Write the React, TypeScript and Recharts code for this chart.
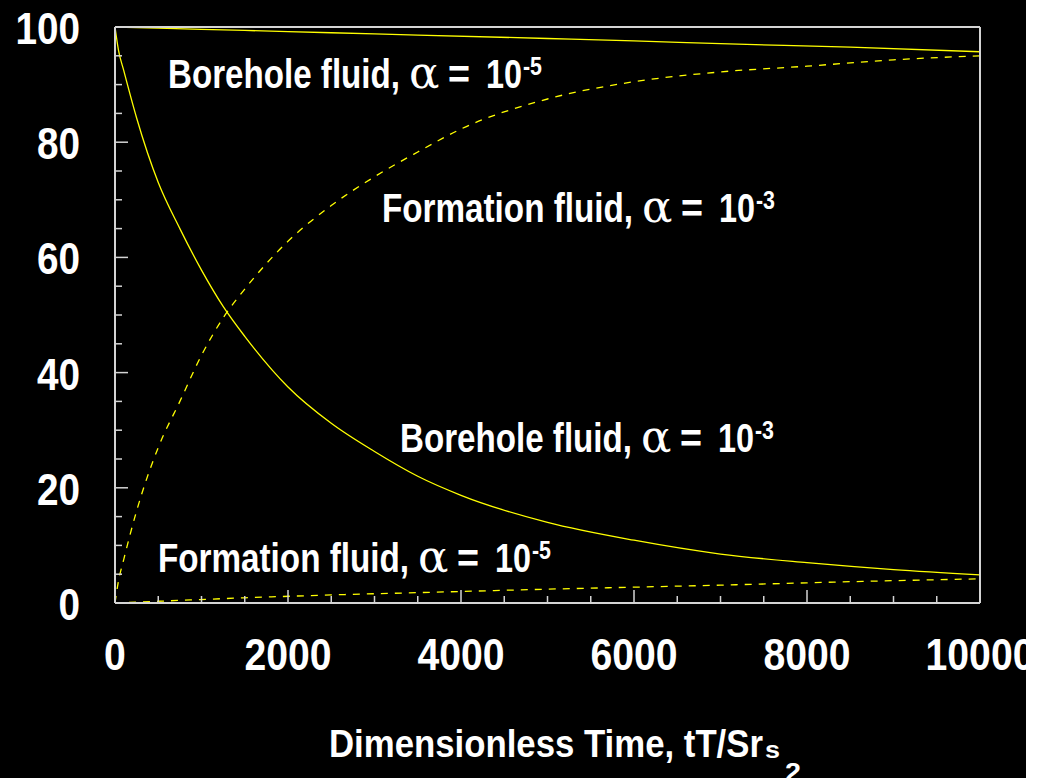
import { Customized, Line, LineChart, XAxis, YAxis } from "recharts";

// dimensionless time samples for the alpha = 1e-3 pair
const fastTimes = [0, 40, 100, 250, 500, 750, 1000, 1250, 1500, 2000, 2500, 3000, 3500, 4000, 5000, 6000, 7000, 8000, 9000, 10000];
const fastBorehole = [100, 96.0, 92.5, 84.2, 73.0, 65.0, 57.8, 51.5, 46.3, 37.5, 31.2, 26.3, 22.0, 18.7, 14.0, 10.9, 8.5, 7.0, 5.8, 4.9];
const fastFormation = [0, 3.8, 7.5, 16.0, 27.0, 35.0, 43.0, 49.5, 54.5, 62.8, 69.0, 74.0, 78.3, 82.3, 87.5, 90.5, 92.2, 93.2, 94.3, 95.0];

// alpha = 1e-5 pair changes slowly, fewer samples needed
const slowTimes = [0, 500, 1500, 2500, 3500, 5000, 6000, 7000, 8500, 10000];
const slowBorehole = [100, 99.8, 99.4, 99.0, 98.6, 98.0, 97.6, 97.1, 96.5, 95.7];
const slowFormation = [0, 0.3, 0.9, 1.4, 1.8, 2.4, 2.75, 3.1, 3.7, 4.2];

const xTicks = Array.from({ length: 21 }, (_, i) => i * 500);
const yTicks = Array.from({ length: 21 }, (_, i) => i * 5);

const FONT = "'Liberation Sans', Arial, sans-serif";
const FRAME = "#d4d4d4";
const CURVE = "#ffff00";

const toPoints = (times: number[], values: number[]) =>
  times.map((t, i) => ({ t, v: values[i] }));

// bold sans squeezed horizontally to get a condensed face
function Narrow({ x, y, size, sx, anchor = "start", children }: any) {
  return (
    <g transform={`translate(${x},${y}) scale(${sx},1)`}>
      <text x={0} y={0} textAnchor={anchor} fill="#fff" fontFamily={FONT} fontWeight="bold" fontSize={size}>
        {children}
      </text>
    </g>
  );
}

const tickFor = (side: "bottom" | "top" | "left" | "right") => (props: any) => {
  const { x, y, payload } = props;
  const v = payload.value;
  const horizontal = side === "bottom" || side === "top";
  const major = horizontal ? v % 2000 === 0 : v % 20 === 0;
  const len = major ? 13 : 7;
  let line;
  if (side === "bottom") line = <line x1={x} x2={x} y1={y} y2={y - len} stroke={FRAME} strokeWidth={1.5} />;
  else if (side === "top") line = <line x1={x} x2={x} y1={y} y2={y + len} stroke={FRAME} strokeWidth={1.5} />;
  else if (side === "left") line = <line x1={x} x2={x + len} y1={y} y2={y} stroke={FRAME} strokeWidth={1.5} />;
  else line = <line x1={x} x2={x - len} y1={y} y2={y} stroke={FRAME} strokeWidth={1.5} />;

  let label = null;
  if (major && side === "bottom") {
    label = <Narrow x={x} y={y + 67} size={45} sx={0.87} anchor="middle">{v}</Narrow>;
  } else if (major && side === "left") {
    label = <Narrow x={x - 35} y={y + 17} size={44} sx={0.88} anchor="end">{v}</Narrow>;
  }
  return (
    <g>
      {line}
      {label}
    </g>
  );
};

// "<name>, α = 10^-exp" with the pieces laid out from the end of the name
function Phrase({ x, y, text, width, exp }: { x: number; y: number; text: string; width: number; exp: string }) {
  const e = x + width;
  return (
    <g fill="#fff" fontFamily={FONT} fontWeight="bold">
      <text x={x} y={y} fontSize={40} textLength={width + 3} lengthAdjust="spacingAndGlyphs">
        {text}
      </text>
      <text x={e + 12} y={y} fontSize={45} fontFamily="'DejaVu Serif', serif" fontWeight="normal">
        α
      </text>
      <text x={e + 51} y={y} fontSize={40} textLength={22} lengthAdjust="spacingAndGlyphs">
        =
      </text>
      <text x={e + 89} y={y} fontSize={40} textLength={36} lengthAdjust="spacingAndGlyphs">
        10
      </text>
      <text x={e + 126} y={y - 13} fontSize={26} textLength={19} lengthAdjust="spacingAndGlyphs">
        -{exp}
      </text>
    </g>
  );
}

function Annotations() {
  return (
    <g>
      <Phrase x={168} y={88} text="Borehole fluid," width={229} exp="5" />
      <Phrase x={382} y={222} text="Formation fluid," width={248} exp="3" />
      <Phrase x={400} y={452} text="Borehole fluid," width={229} exp="3" />
      <Phrase x={158} y={572} text="Formation fluid," width={248} exp="5" />
      <g fill="#fff" fontFamily={FONT} fontWeight="bold">
        <text x={329} y={757} fontSize={38} textLength={434} lengthAdjust="spacingAndGlyphs">
          Dimensionless Time, tT/Sr
        </text>
        <text x={765} y={758} fontSize={23} textLength={15} lengthAdjust="spacingAndGlyphs">
          s
        </text>
        <text x={785} y={781} fontSize={26} textLength={16} lengthAdjust="spacingAndGlyphs">
          2
        </text>
      </g>
    </g>
  );
}

export default function App() {
  return (
    <div style={{ position: "absolute", left: 0, top: 0, width: 1026, height: 778, background: "#000", overflow: "hidden" }}>
      <LineChart width={1045} height={778} margin={{ top: 17, right: 55, left: 0, bottom: 0 }}>
        <XAxis
          xAxisId="bottom"
          dataKey="t"
          type="number"
          domain={[0, 10000]}
          ticks={xTicks}
          interval={0}
          height={175}
          tickSize={0}
          tickMargin={0}
          axisLine={{ stroke: FRAME, strokeWidth: 2 }}
          tick={tickFor("bottom")}
        />
        <XAxis
          xAxisId="top"
          orientation="top"
          dataKey="t"
          type="number"
          domain={[0, 10000]}
          ticks={xTicks}
          interval={0}
          height={10}
          tickSize={0}
          tickMargin={0}
          axisLine={{ stroke: FRAME, strokeWidth: 2 }}
          tick={tickFor("top")}
        />
        <YAxis
          yAxisId="left"
          type="number"
          domain={[0, 100]}
          ticks={yTicks}
          interval={0}
          width={115}
          tickSize={0}
          tickMargin={0}
          axisLine={{ stroke: FRAME, strokeWidth: 2 }}
          tick={tickFor("left")}
        />
        <YAxis
          yAxisId="right"
          orientation="right"
          type="number"
          domain={[0, 100]}
          ticks={yTicks}
          interval={0}
          width={10}
          tickSize={0}
          tickMargin={0}
          axisLine={{ stroke: FRAME, strokeWidth: 2 }}
          tick={tickFor("right")}
        />
        <Line xAxisId="bottom" yAxisId="left" data={toPoints(slowTimes, slowBorehole)} dataKey="v" type="monotone" stroke={CURVE} strokeWidth={1.3} dot={false} isAnimationActive={false} />
        <Line xAxisId="bottom" yAxisId="left" data={toPoints(slowTimes, slowFormation)} dataKey="v" type="monotone" stroke={CURVE} strokeWidth={1.3} strokeDasharray="7 7" dot={false} isAnimationActive={false} />
        <Line xAxisId="bottom" yAxisId="left" data={toPoints(fastTimes, fastBorehole)} dataKey="v" type="monotone" stroke={CURVE} strokeWidth={1.3} dot={false} isAnimationActive={false} />
        <Line xAxisId="bottom" yAxisId="left" data={toPoints(fastTimes, fastFormation)} dataKey="v" type="monotone" stroke={CURVE} strokeWidth={1.3} strokeDasharray="7 7" dot={false} isAnimationActive={false} />
        <Customized component={Annotations} />
      </LineChart>
    </div>
  );
}
